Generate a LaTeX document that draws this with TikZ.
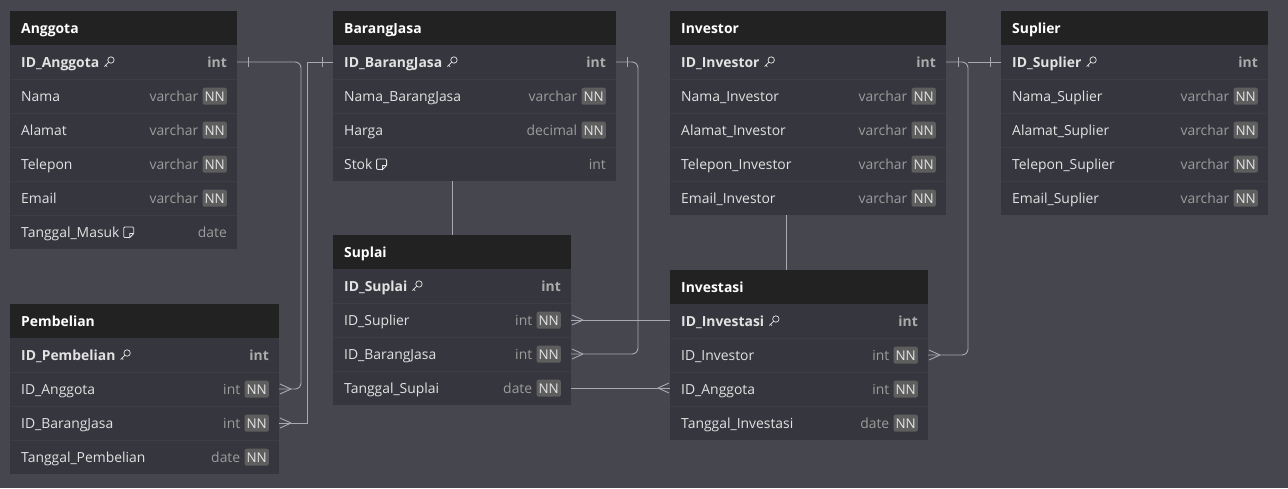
\documentclass[tikz,border=0pt]{standalone}
\usepackage{fontspec}
\setmainfont{Open Sans}
\usetikzlibrary{calc}
\definecolor{bg}{HTML}{46464E}
\definecolor{bodyc}{HTML}{36363E}
\definecolor{hdrc}{HTML}{222222}
\definecolor{sepc}{HTML}{3D3D45}
\definecolor{ftxt}{HTML}{E2E2E2}
\definecolor{ttxt}{HTML}{9C9C9C}
\definecolor{pktxt}{HTML}{ABABAB}
\definecolor{badgec}{HTML}{5E5E5E}
\definecolor{linec}{HTML}{A9A9B1}
\tikzset{
 hdrbox/.style={fill=hdrc, draw=none, minimum height=34pt, inner sep=0pt, anchor=north west, outer sep=0pt},
 rowbox/.style={fill=bodyc, draw=none, minimum height=34pt, inner sep=0pt, anchor=north west, outer sep=0pt},
 titletxt/.style={font=\bfseries\fontsize{13.9}{16}\selectfont, text=white, anchor=base west, inner sep=0pt},
 fname/.style={font=\fontsize{13.9}{16}\selectfont, text=ftxt, anchor=base west, inner sep=0pt},
 pkname/.style={font=\bfseries\fontsize{13.9}{16}\selectfont, text=ftxt, anchor=base west, inner sep=0pt},
 ftype/.style={font=\fontsize{13.9}{16}\selectfont, text=ttxt, anchor=base east, inner sep=0pt},
 pktype/.style={font=\bfseries\fontsize{13.9}{16}\selectfont, text=pktxt, anchor=base east, inner sep=0pt},
 nnbadge/.style={font=\fontsize{13.4}{16}\selectfont, text=ftxt!90, fill=badgec, rounded corners=2pt, anchor=base east, inner xsep=2pt, inner ysep=0pt, minimum height=17pt},
 sepline/.style={draw=sepc, line width=0.8pt},
 conn/.style={draw=linec, line width=0.9pt},
 keyicon/.pic={
  \draw[draw=ftxt!90, line width=0.7pt] (7.5,-7) circle (3.2);
  \draw[draw=ftxt!90, line width=0.7pt] (5.2,-4.7) -- (1,-0.5) (2.2,-1.7) -- (3.6,-0.3);
 },
 noteicon/.pic={
  \draw[draw=ftxt!90, line width=0.8pt, rounded corners=1pt] (7,0.5) -- (1,0.5) -- (1,-10) -- (11,-10) -- (11,-3.5);
  \draw[draw=ftxt!90, line width=0.8pt] (11,-3.5) -- (7,0.5) -- (7,-3.5) -- (11,-3.5);
 }
}
% #1 name, #2 x, #3 ytop, #4 width, #5 title
\newcommand\thead[5]{%
 \node[hdrbox, minimum width=#4pt] (#1) at (#2,#3) {};
 \node[titletxt] (#1-t) at (#2+11,#3+22) {#5};
}
% #1 name, #2 x, #3 ytop, #4 width, #5 field, #6 type
\newcommand\rowpk[6]{%
 \node[rowbox, minimum width=#4pt] (#1) at (#2,#3) {};
 \node[pkname] (#1-f) at (#2+11,#3+22) {#5};
 \pic at ([xshift=4pt]#1-f.base east) {keyicon};
 \node[pktype] (#1-y) at (#2+#4-10,#3+22) {#6};
}
\newcommand\rownn[6]{%
 \node[rowbox, minimum width=#4pt] (#1) at (#2,#3) {};
 \draw[sepline] (#1.north west) -- (#1.north east);
 \node[fname] (#1-f) at (#2+11,#3+22) {#5};
 \node[nnbadge] (#1-n) at (#2+#4-10,#3+22) {NN};
 \node[ftype] (#1-y) at ([xshift=-4pt]#1-n.base west) {#6};
}
\newcommand\rownote[6]{%
 \node[rowbox, minimum width=#4pt] (#1) at (#2,#3) {};
 \draw[sepline] (#1.north west) -- (#1.north east);
 \node[fname] (#1-f) at (#2+11,#3+22) {#5};
 \pic at ([xshift=3pt]#1-f.base east) {noteicon};
 \node[ftype] (#1-y) at (#2+#4-10,#3+22) {#6};
}
\newcommand\crowE[1]{\draw[conn, shift={#1}] (12,0) -- (1,-5) (12,0) -- (1,5);}
\newcommand\crowW[1]{\draw[conn, shift={#1}] (-12,0) -- (-1,-5) (-12,0) -- (-1,5);}
\newcommand\tick[1]{\draw[conn, shift={#1}] (0,-5) -- (0,5);}
\begin{document}
\begin{tikzpicture}[x=1pt,y=-1pt]
\fill[bg] (0,0) rectangle (1288,488);
\useasboundingbox (0,0) rectangle (1288,488);
% Anggota
\thead{Ah}{10}{11}{227}{Anggota}
\rowpk{A1}{10}{11+34}{227}{ID\_Anggota}{int}
\rownn{A2}{10}{11+68}{227}{Nama}{varchar}
\rownn{A3}{10}{11+102}{227}{Alamat}{varchar}
\rownn{A4}{10}{11+136}{227}{Telepon}{varchar}
\rownn{A5}{10}{11+170}{227}{Email}{varchar}
\rownote{A6}{10}{11+204}{227}{Tanggal\_Masuk}{date}
% BarangJasa
\thead{Bh}{333}{11}{283}{BarangJasa}
\rowpk{B1}{333}{11+34}{283}{ID\_BarangJasa}{int}
\rownn{B2}{333}{11+68}{283}{Nama\_BarangJasa}{varchar}
\rownn{B3}{333}{11+102}{283}{Harga}{decimal}
\rownote{B4}{333}{11+136}{283}{Stok}{int}
% Investor
\thead{IVh}{670}{11}{276}{Investor}
\rowpk{IV1}{670}{11+34}{276}{ID\_Investor}{int}
\rownn{IV2}{670}{11+68}{276}{Nama\_Investor}{varchar}
\rownn{IV3}{670}{11+102}{276}{Alamat\_Investor}{varchar}
\rownn{IV4}{670}{11+136}{276}{Telepon\_Investor}{varchar}
\rownn{IV5}{670}{11+170}{276}{Email\_Investor}{varchar}
% Suplier
\thead{SPh}{1001}{11}{267}{Suplier}
\rowpk{SP1}{1001}{11+34}{267}{ID\_Suplier}{int}
\rownn{SP2}{1001}{11+68}{267}{Nama\_Suplier}{varchar}
\rownn{SP3}{1001}{11+102}{267}{Alamat\_Suplier}{varchar}
\rownn{SP4}{1001}{11+136}{267}{Telepon\_Suplier}{varchar}
\rownn{SP5}{1001}{11+170}{267}{Email\_Suplier}{varchar}
% Pembelian
\thead{Ph}{10}{304}{269}{Pembelian}
\rowpk{P1}{10}{304+34}{269}{ID\_Pembelian}{int}
\rownn{P2}{10}{304+68}{269}{ID\_Anggota}{int}
\rownn{P3}{10}{304+102}{269}{ID\_BarangJasa}{int}
\rownn{P4}{10}{304+136}{269}{Tanggal\_Pembelian}{date}
% Suplai
\thead{Sh}{333}{235}{238}{Suplai}
\rowpk{S1}{333}{235+34}{238}{ID\_Suplai}{int}
\rownn{S2}{333}{235+68}{238}{ID\_Suplier}{int}
\rownn{S3}{333}{235+102}{238}{ID\_BarangJasa}{int}
\rownn{S4}{333}{235+136}{238}{Tanggal\_Suplai}{date}
% Investasi
\thead{IAh}{670}{270}{258}{Investasi}
\rowpk{IA1}{670}{270+34}{258}{ID\_Investasi}{int}
\rownn{IA2}{670}{270+68}{258}{ID\_Investor}{int}
\rownn{IA3}{670}{270+102}{258}{ID\_Anggota}{int}
\rownn{IA4}{670}{270+136}{258}{Tanggal\_Investasi}{date}
% connectors
\draw[conn, rounded corners=6pt] (A1.east) -- ([xshift=64pt]A1.east) |- (P2.east);
\tick{([xshift=11pt]A1.east)}
\crowE{(P2.east)}
\draw[conn] (B1.west) -- ([xshift=-26pt]B1.west) |- (P3.east);
\tick{([xshift=-11pt]B1.west)}
\crowE{(P3.east)}
\draw[conn, rounded corners=6pt] (B1.east) -- ([xshift=22pt]B1.east) |- (S3.east);
\tick{([xshift=11pt]B1.east)}
\crowE{(S3.east)}
\draw[conn] (S2.east) -- (S2.east -| IA1.west);
\crowE{(S2.east)}
\draw[conn] (S4.east) -- (S4.east -| IA3.west);
\crowW{(S4.east -| IA3.west)}
\draw[conn, rounded corners=6pt] (IV1.east) -- ([xshift=22pt]IV1.east) |- (IA2.east);
\tick{([xshift=12pt]IV1.east)}
\crowE{(IA2.east)}
\coordinate (spj) at ([xshift=-33pt]SP1.west);
\draw[conn] (SP1.west) -- (spj);
\tick{([xshift=-11pt]SP1.west)}
\draw[conn] (B4.south -| Sh.north) -- (Sh.north);
\coordinate (ivx) at ([xshift=-13pt]IAh.north);
\draw[conn] (ivx |- IV5.south) -- (ivx);
\end{tikzpicture}
\end{document}
